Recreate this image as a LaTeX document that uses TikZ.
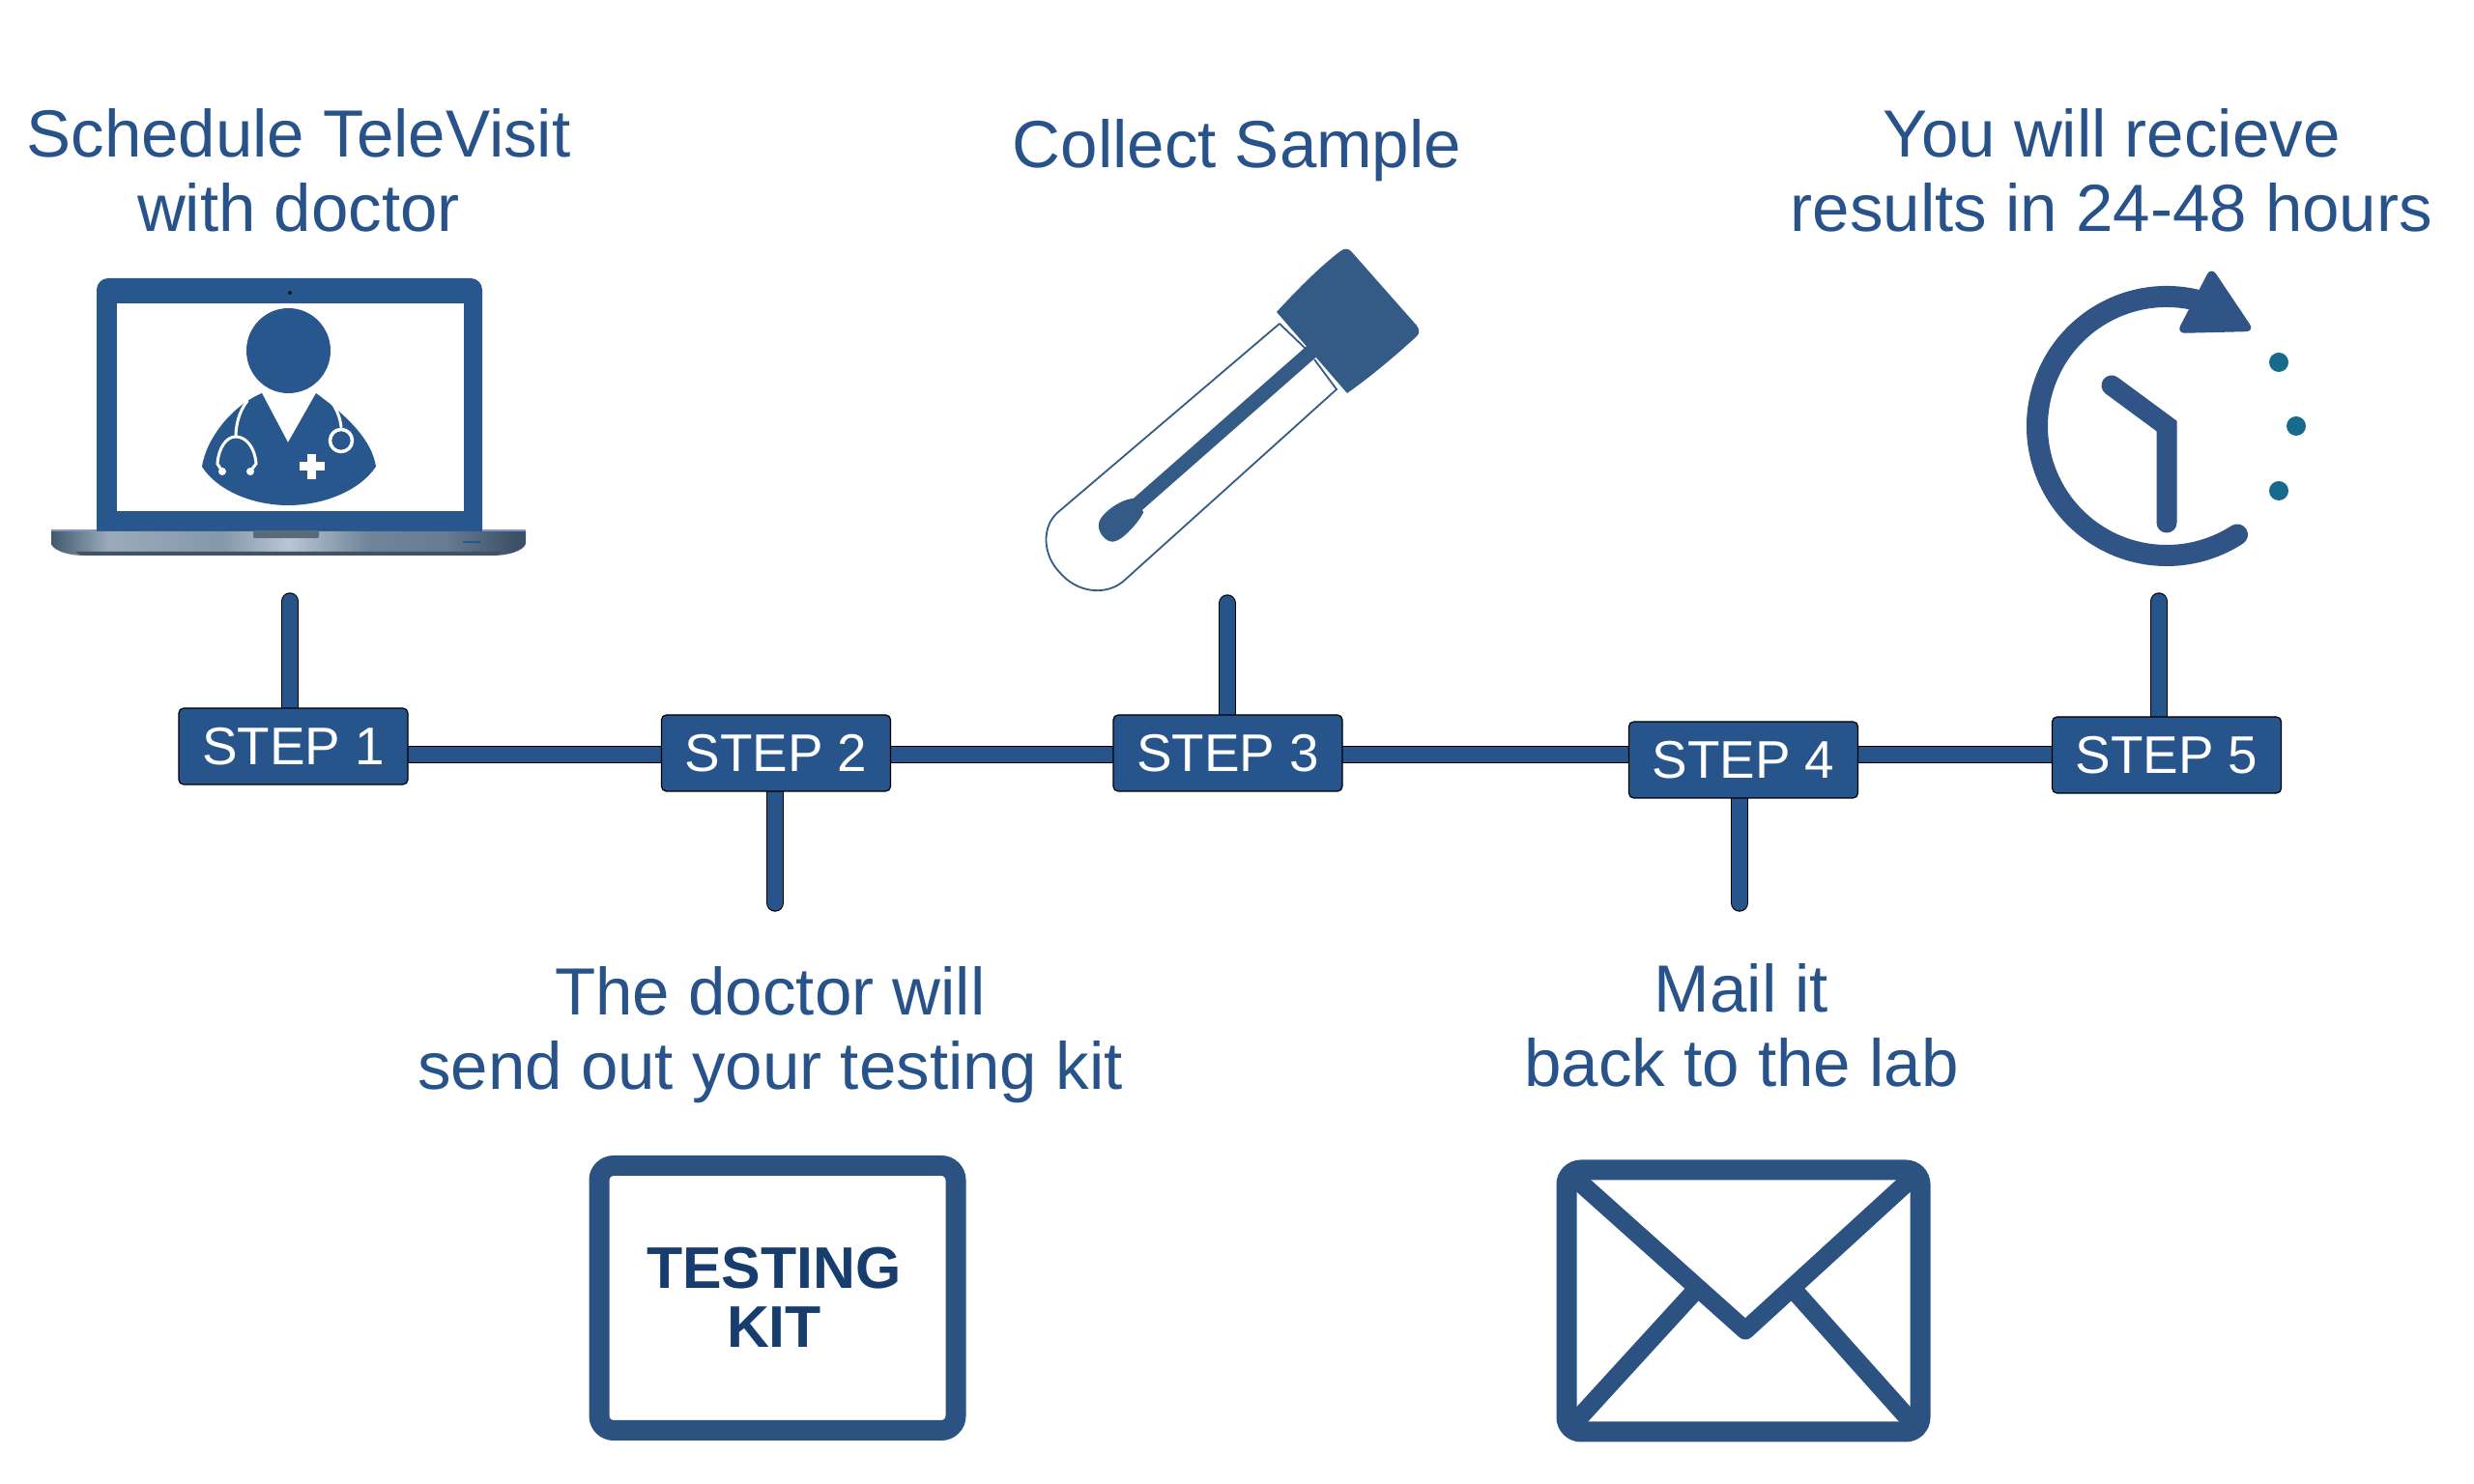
\documentclass[tikz,border=0pt]{standalone}
\usepackage{fontspec}
\setmainfont{Liberation Sans}
\usetikzlibrary{backgrounds}

\definecolor{labelblue}{HTML}{28528A}
\definecolor{stepblue}{HTML}{27548A}
\definecolor{lidblue}{HTML}{27578D}
\definecolor{tubeblue}{HTML}{345B85}
\definecolor{clockblue}{HTML}{2F5485}
\definecolor{dotteal}{HTML}{176A8C}
\definecolor{kitblue}{HTML}{2C5282}
\definecolor{kitnavy}{HTML}{173D6E}
\definecolor{metalA}{HTML}{425A6E}
\definecolor{metalB}{HTML}{9AAABB}
\definecolor{metalC}{HTML}{8498AA}
\definecolor{metalD}{HTML}{B8C6D2}
\definecolor{metalE}{HTML}{6F859A}
\definecolor{metalF}{HTML}{677C92}
\definecolor{metalG}{HTML}{3C5068}
\pgfdeclarehorizontalshading{basemetal}{100bp}{color(0bp)=(metalA); color(25bp)=(metalA); color(31bp)=(metalB); color(43bp)=(metalC); color(50bp)=(metalD); color(58.5bp)=(metalE); color(66.5bp)=(metalF); color(74bp)=(metalG); color(100bp)=(metalG)}

\tikzset{
  stepbox/.style={draw=black, line width=0.012cm, fill=stepblue, rounded corners=0.05cm,
    minimum width=2.37cm, minimum height=0.79cm, text=white, inner sep=0pt,
    font=\fontsize{15.6}{18}\selectfont},
  barline/.style={draw=black, line width=0.012cm, double=stepblue, double distance=0.16cm, line cap=round},
  steptext/.style={text=labelblue, align=center, inner sep=0pt,
    font=\fontsize{19.65}{21.9}\selectfont},
  whiteline/.style={draw=white, line width=0.03cm, line cap=round},
  iconbox/.style={draw=kitblue, line width=0.21cm, rounded corners=0.15cm},
  flapline/.style={draw=kitblue, line width=0.19cm, line join=round},
}

\begin{document}
\begin{tikzpicture}
\useasboundingbox (0,0) rectangle (25.6,15.36);

% titles
\node[steptext] (schedule) at (3.09,13.60) {Schedule TeleVisit\\with doctor};
\node[steptext] (collect) at (12.80,13.80) {Collect Sample};
\node[steptext] (results) at (21.85,13.60) {You will recieve\\results in 24-48 hours};
\node[steptext] (sendkit) at (7.97,4.65) {The doctor will\\send out your testing kit};
\node[steptext] (mailit) at (18.02,4.745) {Mail it\\back to the lab};

% timeline
\node[stepbox] (step1) at (3.035,7.635) {STEP 1};
\node[stepbox] (step2) at (8.03,7.565) {STEP 2};
\node[stepbox] (step3) at (12.705,7.565) {STEP 3};
\node[stepbox] (step4) at (18.04,7.495) {STEP 4};
\node[stepbox] (step5) at (22.42,7.545) {STEP 5};
\coordinate (spine) at (0,7.55);
\coordinate (top1) at (3.00,9.135);
\coordinate (bot2) at (8.02,6.015);
\coordinate (top3) at (12.70,9.115);
\coordinate (bot4) at (18.00,6.015);
\coordinate (top5) at (22.34,9.135);
\begin{scope}[on background layer]
\foreach \a/\b in {step1/step2,step2/step3,step3/step4,step4/step5}
  \draw[barline] (spine -| \a) -- (spine -| \b);
\foreach \a/\b in {top1/step1,bot2/step2,top3/step3,bot4/step4,top5/step5}
  \draw[barline] (\a) -- (\a |- \b);
\end{scope}

% laptop
\fill[lidblue, rounded corners=0.12cm] (1.00,9.70) -- (1.00,12.48) -- (4.99,12.48) -- (4.99,9.70) -- cycle;
\fill[white] (1.21,10.07) rectangle (4.80,12.22);
\fill[black!70!lidblue] (3.00,12.33) circle (0.02);
\shade[shading=basemetal] (0.53,9.86) -- (5.44,9.86) -- (5.44,9.74) .. controls (5.44,9.68) and (5.30,9.61) .. (5.10,9.61) -- (0.87,9.61) .. controls (0.67,9.61) and (0.53,9.68) .. (0.53,9.74) -- cycle;
\fill[black!40!lidblue!60!gray] (0.78,9.65) -- (5.19,9.65) .. controls (5.14,9.61) and (5.12,9.61) .. (5.10,9.61) -- (0.87,9.61) .. controls (0.85,9.61) and (0.83,9.61) .. (0.78,9.65) -- cycle;
\draw[lidblue!60!white, line width=0.012cm] (0.53,9.87) -- (1.00,9.87) (4.99,9.87) -- (5.44,9.87);
\fill[metalE!80!black, rounded corners=0.02cm] (2.62,9.87) -- (2.62,9.79) -- (3.30,9.79) -- (3.30,9.87) -- cycle;
\draw[lidblue, line width=0.02cm] (4.79,9.75) -- (4.97,9.75);

% doctor
\fill[lidblue] (2.985,11.73) ellipse (0.435 and 0.44);
\fill[lidblue] (2.71,11.29) -- (2.98,10.78) -- (3.27,11.29)
  .. controls (3.60,11.05) and (3.85,10.80) .. (3.89,10.53)
  .. controls (3.72,10.28) and (3.35,10.13) .. (2.98,10.13)
  .. controls (2.62,10.13) and (2.25,10.28) .. (2.09,10.53)
  .. controls (2.13,10.80) and (2.38,11.15) .. (2.71,11.29) -- cycle;
\draw[whiteline] (2.56,11.21) .. controls (2.47,11.10) and (2.44,10.95) .. (2.44,10.84);
\draw[whiteline] (2.30,10.48) -- (2.25,10.56) .. controls (2.26,10.72) and (2.34,10.84) .. (2.44,10.84) .. controls (2.55,10.84) and (2.64,10.72) .. (2.65,10.56) -- (2.59,10.48);
\fill[white] (2.30,10.48) circle (0.04) (2.59,10.48) circle (0.04);
\draw[whiteline] (3.41,11.23) .. controls (3.47,11.15) and (3.52,11.05) .. (3.53,10.94);
\draw[whiteline, line width=0.035cm] (3.53,10.80) circle (0.115);
\fill[white] (3.096,10.485) rectangle (3.356,10.575);
\fill[white] (3.181,10.40) rectangle (3.271,10.66);

% test tube
\draw[tubeblue, line width=0.018cm] (13.24,12.01) -- (10.95,10.06)
  .. controls (10.78,9.92) and (10.78,9.62) .. (10.97,9.43)
  .. controls (11.13,9.24) and (11.42,9.18) .. (11.62,9.34)
  -- (13.83,11.33) -- (13.60,11.64);
\draw[tubeblue, line width=0.018cm] (13.51,11.75) -- (13.24,12.01);
\fill[tubeblue] (13.21,12.13) .. controls (13.43,12.37) and (13.67,12.61) .. (13.87,12.76)
  .. controls (13.91,12.79) and (13.95,12.79) .. (13.98,12.76) -- (14.66,11.99)
  .. controls (14.69,11.95) and (14.69,11.91) .. (14.66,11.88)
  .. controls (14.42,11.66) and (14.18,11.46) .. (13.94,11.29) -- cycle;
\draw[tubeblue, line width=0.15cm] (13.58,11.73) -- (11.75,10.12);
\fill[tubeblue] (11.733,10.20) .. controls (11.60,10.20) and (11.36,10.03) .. (11.367,9.92)
  .. controls (11.37,9.83) and (11.45,9.75) .. (11.517,9.753)
  .. controls (11.62,9.76) and (11.80,9.98) .. (11.833,10.06) -- cycle;

% clock
\coordinate (clockmid) at (22.42,10.95);
\draw[clockblue, line width=0.22cm, line cap=round] (clockmid) ++(77:1.34) arc[start angle=77, end angle=303, radius=1.34];
\fill[clockblue, rounded corners=0.09cm] (22.88,12.60) -- (23.33,11.93) -- (22.52,11.91) -- cycle;
\draw[clockblue, line width=0.21cm, line cap=round] (21.85,11.37) -- (clockmid) -- (22.42,9.95);
\fill[dotteal] (23.58,11.61) circle (0.10);
\fill[dotteal] (23.76,10.95) circle (0.10);
\fill[dotteal] (23.58,10.28) circle (0.10);

% testing kit
\draw[iconbox] (6.20,0.555) rectangle (9.89,3.295);
\node[text=kitnavy, align=center, inner sep=0pt, font=\fontsize{17.3}{17.4}\selectfont\bfseries] (kit) at (8.01,1.93) {TESTING\\KIT};

% envelope
\draw[iconbox] (16.21,0.54) rectangle (19.87,3.25);
\draw[flapline] (16.26,3.20) -- (18.06,1.59) -- (19.82,3.20);
\draw[flapline] (17.56,2.02) -- (16.28,0.62);
\draw[flapline] (18.55,2.02) -- (19.80,0.62);
\end{tikzpicture}
\end{document}
